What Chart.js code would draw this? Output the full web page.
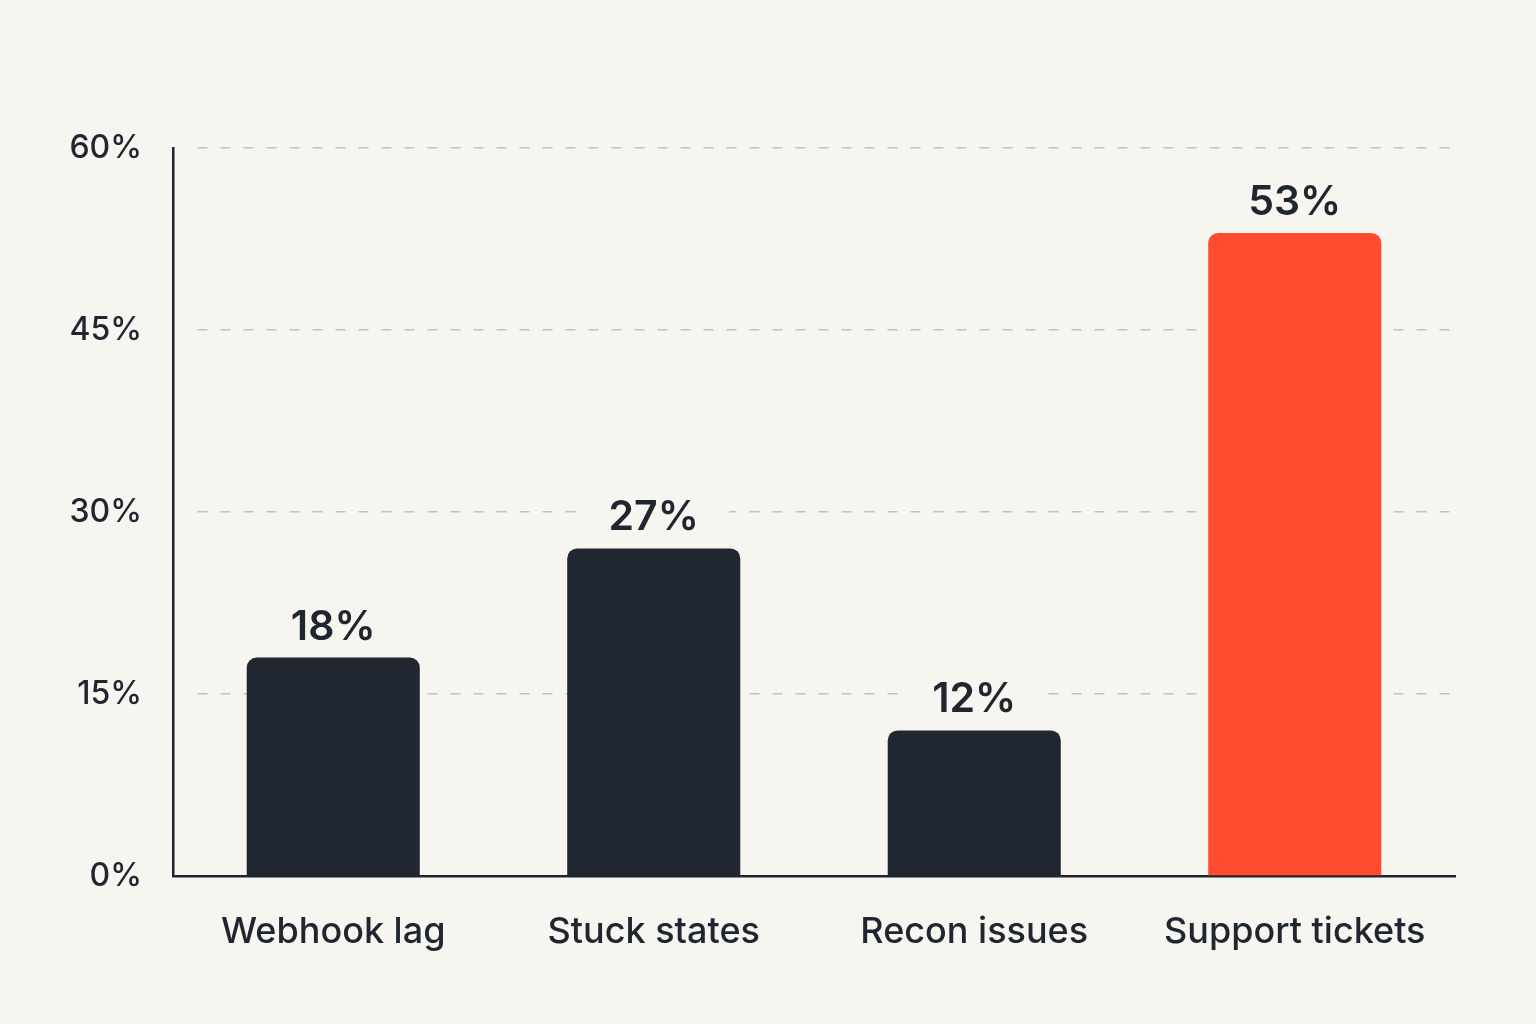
<!DOCTYPE html>
<html>
<head>
<meta charset="utf-8">
<script src="https://cdn.jsdelivr.net/npm/chart.js@4.4.1/dist/chart.umd.min.js"></script>
<style>
  html, body { margin: 0; padding: 0; background: #f7f5f0; }
  #wrap { width: 1536px; height: 1024px; }
</style>
</head>
<body>
<div id="wrap"><canvas id="myChart" width="1536" height="1024"></canvas></div>
<script>
const categories = ["Webhook lag", "Stuck states", "Recon issues", "Support tickets"];
const shares = [18, 27, 12, 53];
const barColors = ["#212730", "#212730", "#212730", "#ff4b2f"];
const yTicks = [0, 15, 30, 45, 60];

const ink = "#1f2630";
const bg = "#f7f5f0";

// value labels above bars, with a bg box so the grid dashes break around them
const barLabels = {
  id: "barLabels",
  afterDatasetsDraw(chart) {
    const c = chart.ctx;
    const meta = chart.getDatasetMeta(0);
    c.save();
    c.font = "600 41px Inter";
    c.textAlign = "center";
    c.textBaseline = "alphabetic";
    meta.data.forEach((bar, i) => {
      const txt = shares[i] + "%";
      const w = c.measureText(txt).width;
      const yb = bar.y - 18;
      c.fillStyle = bg;
      c.fillRect(bar.x - w / 2 - 30, yb - 36, w + 60, 42);
      c.fillStyle = ink;
      c.fillText(txt, bar.x, yb);
    });
    c.restore();
  },
};

// gridlines start a little right of the y axis
const gridGap = {
  id: "gridGap",
  beforeDatasetsDraw(chart) {
    const a = chart.chartArea;
    const c = chart.ctx;
    c.save();
    c.fillStyle = bg;
    c.fillRect(a.left + 2, a.top - 3, 12, a.bottom - a.top - 2);
    c.restore();
  },
};

const ctx = document.getElementById("myChart");

new Chart(ctx, {
  type: "bar",
  data: {
    labels: categories,
    datasets: [
      {
        data: shares,
        backgroundColor: barColors,
        borderRadius: { topLeft: 10, topRight: 10, bottomLeft: 0, bottomRight: 0 },
        borderSkipped: "bottom",
        barPercentage: 0.54,
        categoryPercentage: 1,
      },
    ],
  },
  options: {
    responsive: false,
    animation: false,
    devicePixelRatio: 1,
    layout: { padding: { top: 148, right: 81, left: 0, bottom: 0 } },
    plugins: { legend: { display: false }, tooltip: { enabled: false } },
    scales: {
      x: {
        grid: { display: false, drawTicks: false },
        border: { display: true, color: ink, width: 2.5 },
        ticks: { color: ink, font: { family: "Inter", size: 36, weight: 500 }, padding: 35 },
        afterFit: (s) => { s.height = 148; },
      },
      y: {
        min: 0,
        max: 60,
        afterBuildTicks: (s) => { s.ticks = yTicks.map((v) => ({ value: v })); },
        grid: {
          color: (g) => (g.tick && g.tick.value === 0 ? "rgba(0,0,0,0)" : "#c4c1bb"),
          lineWidth: 1.5,
          drawTicks: false,
        },
        border: { display: true, color: ink, width: 2.5, dash: [10, 13] },
        ticks: {
          color: ink,
          font: { family: "Inter", size: 32, weight: 500 },
          padding: 31,
          callback: (v) => v + "%",
        },
        afterFit: (s) => { s.width = 173; },
      },
    },
  },
  plugins: [
    gridGap,
    barLabels,
    {
      id: "bgFill",
      beforeDraw(chart) {
        const c = chart.ctx;
        c.save();
        c.fillStyle = bg;
        c.fillRect(0, 0, chart.width, chart.height);
        c.restore();
      },
    },
  ],
});
</script>
</body>
</html>
